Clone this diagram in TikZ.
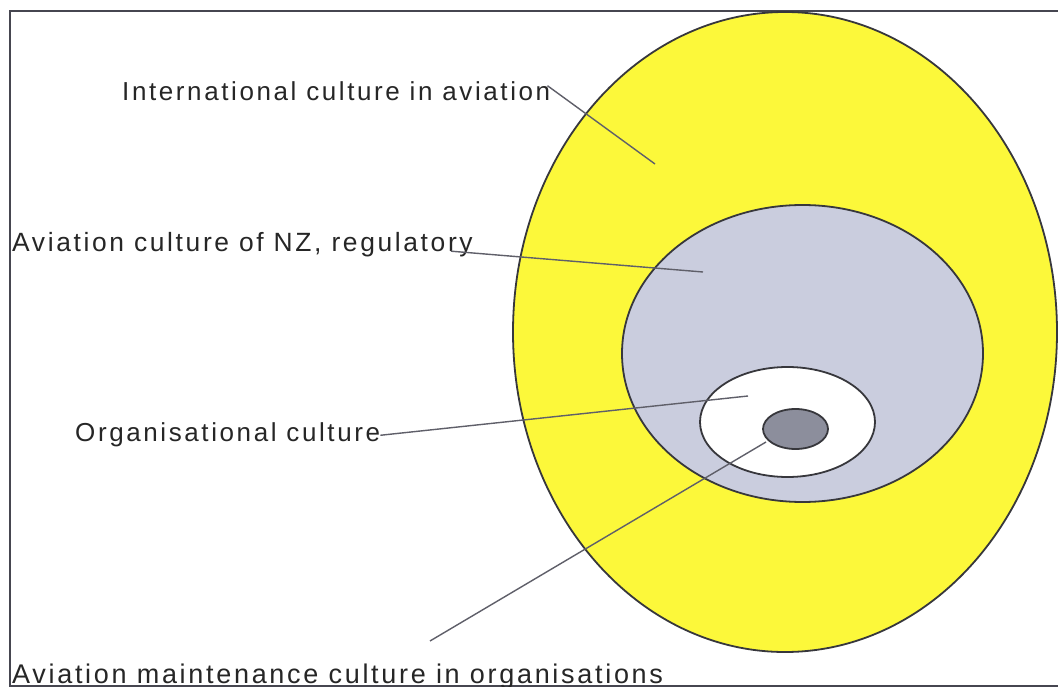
\documentclass[tikz,border=0pt]{standalone}
\usepackage{fontspec}
\setmainfont{Liberation Sans}[LetterSpace=10]
\usetikzlibrary{shapes.geometric}
\definecolor{ylw}{RGB}{252,248,58}
\definecolor{lgray}{RGB}{202,205,222}
\definecolor{dgray}{RGB}{140,142,156}
\definecolor{rim}{RGB}{55,55,60}
\definecolor{frm}{RGB}{70,70,80}
\definecolor{lead}{RGB}{95,95,105}
\tikzset{
  ring/.style={ellipse, draw=rim, line width=1.8pt, inner sep=0pt},
  lbl/.style={anchor=base west, inner sep=0pt, font=\fontsize{26}{30}\selectfont, text=black!85},
  leader/.style={draw=lead, line width=1.4pt}
}
\begin{document}
\begin{tikzpicture}[x=1pt,y=-1pt]
\useasboundingbox (0,0) rectangle (1058,687);
\fill[white] (0,0) rectangle (1058,687);
% frame
\draw[frm, line width=2.6pt] (1058,11) -- (10,11) -- (10,686) -- (1058,686);
% ellipses
\node[ring, fill=ylw, minimum width=544pt, minimum height=640pt] (e1) at (785,332) {};
\node[ring, fill=lgray, minimum width=361pt, minimum height=297pt] (e2) at (802.5,353.5) {};
\node[ring, fill=white, minimum width=175pt, minimum height=110pt] (e3) at (787.5,422) {};
\node[ring, fill=dgray, minimum width=65pt, minimum height=40pt] (e4) at (795.5,429) {};
% labels
\node[lbl] (t1) at (122,101) {International culture in aviation};
\node[lbl, font=\fontsize{26.4}{30}\selectfont] (t2) at (12,252) {Aviation culture of NZ, regulatory};
\node[lbl] (t3) at (75,441) {Organisational culture};
\node[lbl, font=\fontsize{27}{30}\selectfont] (t4) at (12,683) {Aviation maintenance culture in organisations};
% leader end points
\coordinate (p1) at (655,164);
\coordinate (p2) at (703,272);
\coordinate (p3) at (748,396);
\coordinate (p4) at (766,442);
\coordinate (s4) at (430,641);
\draw[leader] ([xshift=-3pt,yshift=6pt]t1.east) -- (p1);
\draw[leader] ([xshift=-22pt,yshift=-6pt]t2.east) -- (p2);
\draw[leader] ([yshift=-1pt]t3.east) -- (p3);
\draw[leader] (s4) -- (p4);
\end{tikzpicture}
\end{document}
